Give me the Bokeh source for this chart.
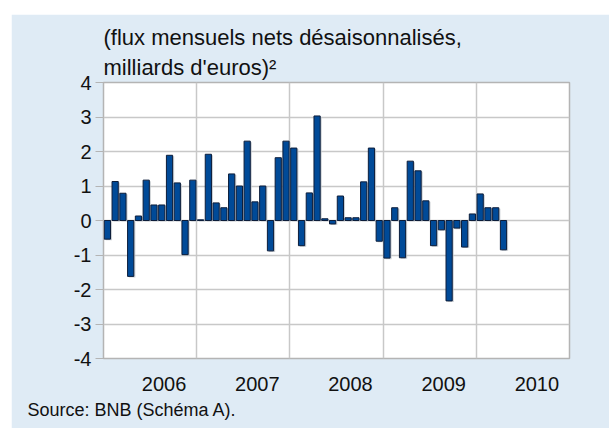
from bokeh.plotting import figure
from bokeh.models import FixedTicker, Title, Range1d, ColumnDataSource
from bokeh.embed import file_html
from bokeh.resources import INLINE

# ---- data (monthly net flows, billions of euros) ----
years = ["2006", "2007", "2008", "2009", "2010"]
values = [-0.54, 1.13, 0.79, -1.62, 0.13, 1.17, 0.45, 0.45, 1.89, 1.09, -0.99, 1.17,
          0.02, 1.92, 0.51, 0.37, 1.35, 1.00, 2.30, 0.54, 1.00, -0.88, 1.82, 2.30,
          2.10, -0.73, 0.80, 3.03, 0.05, -0.10, 0.71, 0.08, 0.08, 1.12, 2.10, -0.60,
          -1.09, 0.37, -1.08, 1.72, 1.44, 0.57, -0.73, -0.27, -2.33, -0.22, -0.77, 0.19,
          0.77, 0.37, 0.37, -0.85]
y_ticks = [-4, -3, -2, -1, 0, 1, 2, 3, 4]
y_tick_labels = ["-4", "-3", "-2", "-1", "0", "1", "2", "3", "4"]
title_line1 = "(flux mensuels nets désaisonnalisés,"
title_line2 = "milliards d'euros)²"
source_text = "Source: BNB (Schéma A)."

month_pos = [i + 0.5 for i in range(len(values))]
src = ColumnDataSource(dict(x=month_pos, top=values,
                            xs=[m + 0.2 for m in month_pos],
                            tops=[v - 0.03 for v in values],
                            bots=[-0.03 for v in values]))

FONT = "Liberation Sans"
BG = "#dfebf5"

p = figure(width=598, height=414, x_range=Range1d(0, 12 * len(years)), y_range=Range1d(-4, 4),
           output_backend="svg", toolbar_location=None,
           min_border_left=92, min_border_right=40, min_border_top=68, min_border_bottom=70)
p.margin = (14, 0, 0, 11)
p.border_fill_color = BG
p.background_fill_color = "white"
p.outline_line_color = "#b4b4b4"
p.outline_line_width = 1.5

# shadow + bars
p.vbar(x="xs", top="tops", bottom="bots", width=0.8, source=src,
       fill_color="#bfc4c9", line_color=None, fill_alpha=0.8)
p.vbar(x="x", top="top", bottom=0, width=0.8, source=src,
       fill_color="#004a98", line_color="#0c1d3a", line_width=1)

# x axis: year labels
label_pos = [12 * k + 7.8 for k in range(len(years))]
p.xaxis.ticker = FixedTicker(ticks=label_pos)
p.xaxis.major_label_overrides = {lp: yr for lp, yr in zip(label_pos, years)}
p.xaxis.axis_line_color = None
p.xaxis.major_tick_line_color = None
p.xaxis.minor_tick_line_color = None
p.xaxis.major_label_standoff = 12
p.xaxis.major_label_text_font = FONT
p.xaxis.major_label_text_font_size = "20px"
p.xaxis.major_label_text_color = "#111111"

p.xgrid.ticker = FixedTicker(ticks=[12 * k for k in range(1, len(years))])
p.xgrid.grid_line_color = "#c8c8c8"
p.xgrid.grid_line_width = 1.5

# y axis
p.yaxis.ticker = FixedTicker(ticks=y_ticks)
p.yaxis.major_label_overrides = {t: s for t, s in zip(y_ticks, y_tick_labels)}
p.yaxis.axis_line_color = None
p.yaxis.major_tick_line_color = "#b4b4b4"
p.yaxis.major_tick_out = 8
p.yaxis.major_tick_in = 0
p.yaxis.minor_tick_line_color = None
p.yaxis.major_label_standoff = 4
p.yaxis.major_label_text_font = FONT
p.yaxis.major_label_text_font_size = "20px"
p.yaxis.major_label_text_color = "#111111"
p.ygrid.grid_line_color = "#c8c8c8"
p.ygrid.grid_line_width = 1.5

# titles (above, nearest first)
t2 = Title(text=title_line2, align="left", text_font=FONT, text_font_size="22px",
           text_font_style="normal", text_color="#111111", standoff=5)
t1 = Title(text=title_line1, align="left", text_font=FONT, text_font_size="22px",
           text_font_style="normal", text_color="#111111", standoff=1)
p.add_layout(t2, "above")
p.add_layout(t1, "above")

src_title = Title(text=source_text, align="left", text_font=FONT, text_font_size="18px",
                  text_font_style="normal", text_color="#111111", offset=-76, standoff=8)
p.add_layout(src_title, "below")

open("out.html", "w").write(file_html(p, INLINE))
